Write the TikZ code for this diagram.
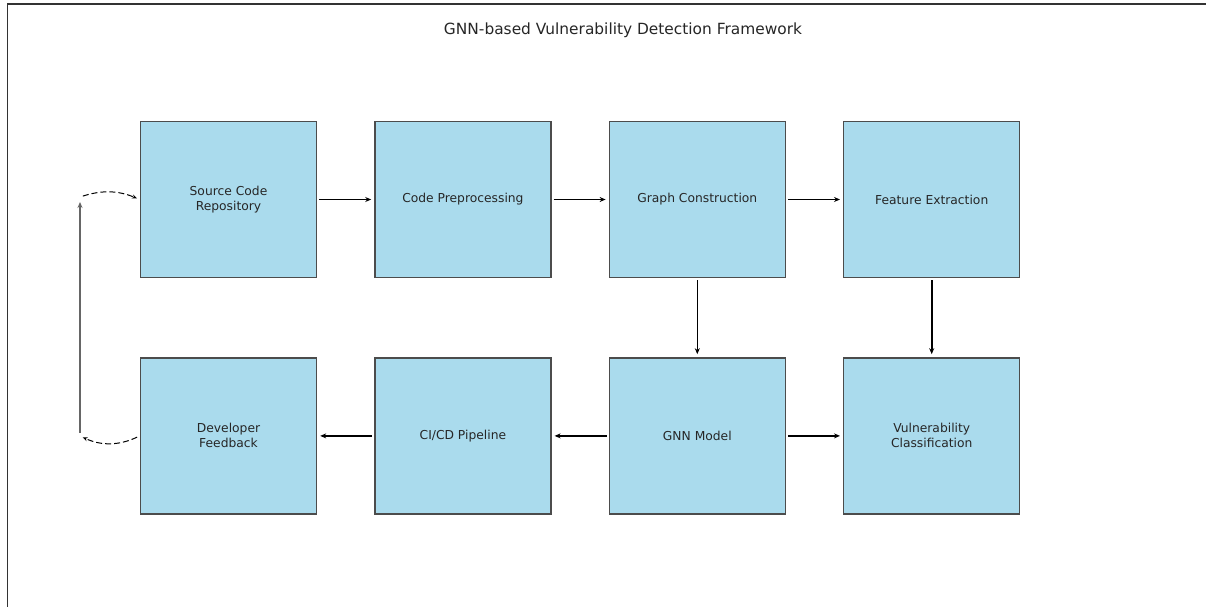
\documentclass[tikz,border=0pt]{standalone}
\usepackage{fontspec}
\setmainfont{DejaVu Sans}
\usetikzlibrary{positioning,arrows.meta}
\definecolor{boxblue}{RGB}{170,219,237}

\begin{document}
\begin{tikzpicture}[x=1pt,y=1pt,
		block/.style={rectangle,draw=black!70,line width=1.4pt,fill=boxblue,minimum width=176pt,minimum height=156pt,inner sep=0pt,align=center,text=black!85,font=\fontsize{12.3}{15}\selectfont},
		flow/.style={-{Stealth[length=6pt,width=5pt]},line width=1.6pt,shorten <=2pt,shorten >=3pt},
		backflow/.style={-{Stealth[length=5pt,width=4pt]},line width=1pt,dash pattern=on 6pt off 3pt,shorten <=3pt,shorten >=3pt},
		node distance=79pt and 57pt]
	\useasboundingbox (0,0) rectangle (1206,607);
	\draw[black!80,line width=1.2pt] (7.5,0) -- (7.5,603) -- (1206,603);
	\node[text=black!85,font=\fontsize{15.4}{18}\selectfont] (title) at (623,577) {GNN-based Vulnerability Detection Framework};
	% upper row
	\node[block] (src) at (228.5,407.5) {Source Code\\Repository};
	\node[block,right=of src] (prep) {Code Preprocessing};
	\node[block,right=of prep] (graph) {Graph Construction};
	\node[block,right=of graph] (feat) {Feature Extraction};
	% lower row
	\node[block,below=of graph] (gnn) {GNN Model};
	\node[block,below=of feat] (vuln) {Vulnerability\\Classification};
	\node[block,left=of gnn] (cicd) {CI/CD Pipeline};
	\node[block,left=of cicd] (dev) {Developer\\Feedback};
	\coordinate (fbLow) at (80,171);
	\coordinate (fbHigh) at (80,410);

	\draw[flow] (src) -- (prep);
	\draw[flow] (prep) -- (graph);
	\draw[flow] (graph) -- (feat);
	\draw[flow] (graph) -- (gnn);
	\draw[flow] (feat) -- (vuln);
	\draw[flow] (gnn) -- (cicd);
	\draw[flow] (cicd) -- (dev);
	\draw[flow] (gnn) -- (vuln);
	% feedback loop
	\draw[backflow] (dev.west) to[bend left=25] (fbLow);
	\draw[flow,black!60,shorten <=3pt,shorten >=5pt] (fbLow) -- (fbHigh);
	\draw[backflow] (fbHigh) to[bend left=20] (src.west);
\end{tikzpicture}
\end{document}
